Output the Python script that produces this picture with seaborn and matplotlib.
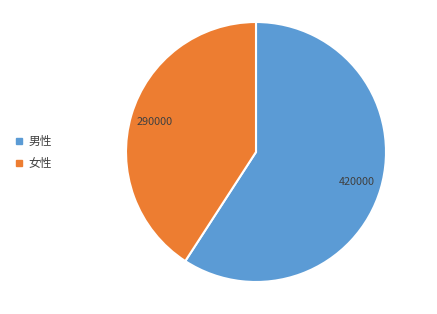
import matplotlib
matplotlib.use("Agg")
import matplotlib.pyplot as plt
from matplotlib.lines import Line2D
import seaborn as sns

categories = ["男性", "女性"]
values = [420000, 290000]
colors = ["#5B9BD5", "#ED7D31"]

sns.set_theme(style="white")
plt.rcParams['font.family'] = ['Noto Sans CJK SC', 'DejaVu Sans']

fig = plt.figure(figsize=(4.37, 3.14), dpi=100)
ax = fig.add_axes([126/437, 32/314, 260/437, 260/314])

total = sum(values)
def fmt(p):
    return f"{int(round(p * total / 100.0))}"

wedges, texts, autotexts = ax.pie(
    values, colors=colors, startangle=90, counterclock=False,
    autopct=fmt, pctdistance=0.81,
    wedgeprops=dict(edgecolor="white", linewidth=1.5),
    textprops=dict(color="#404040", fontsize=7.8),
)
ax.set_aspect("equal")
ax.set_xlim(-1, 1)
ax.set_ylim(-1, 1)

handles = [Line2D([0], [0], marker='s', linestyle='', markersize=4,
                  markerfacecolor=c, markeredgecolor=c) for c in colors]
fig.legend(handles, categories, loc="center left",
           bbox_to_anchor=(5/437, 1 - 152.5/314), frameon=False,
           fontsize=8.5, handlelength=0.6, handletextpad=0.5,
           labelspacing=0.75, labelcolor="#404040")

fig.savefig("out.png", dpi=100)
